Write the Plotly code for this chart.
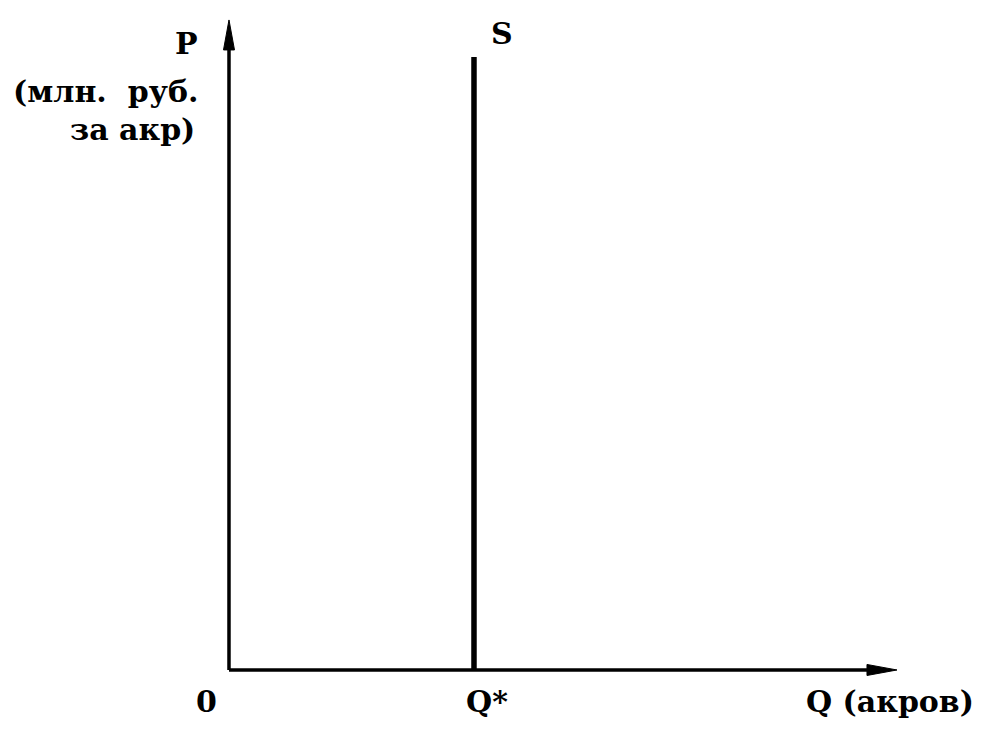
import plotly.graph_objects as go

# Data (units: Q* = 1, top of supply line = 1)
q_star = 1.0
supply_q = [1.0, 1.0]
supply_p = [0.0, 1.0]
x_axis_end = 2.7265
y_axis_end = 1.0604

x_labels = ["0", "Q*", "Q (акров)"]
x_label_pos = [-0.09, 1.053, 2.698]

font_family = "DejaVu Serif"
fsize = 30

# pixel scale of the axes (px per data unit) for arrowhead geometry
PX_X = 245.0
PX_Y = 613.0
HEAD_LEN = 30.0
HEAD_HALF = 5.5

fig = go.Figure()

# axes lines
fig.add_trace(go.Scatter(x=[0, 0], y=[0, y_axis_end - HEAD_LEN / PX_Y], mode="lines",
                         line=dict(color="black", width=3.5), hoverinfo="skip"))
fig.add_trace(go.Scatter(x=[0, x_axis_end - HEAD_LEN / PX_X], y=[0, 0], mode="lines",
                         line=dict(color="black", width=3.5), hoverinfo="skip"))
# arrowheads
fig.add_trace(go.Scatter(
    x=[-HEAD_HALF / PX_X, 0, HEAD_HALF / PX_X, -HEAD_HALF / PX_X],
    y=[y_axis_end - HEAD_LEN / PX_Y, y_axis_end, y_axis_end - HEAD_LEN / PX_Y, y_axis_end - HEAD_LEN / PX_Y],
    mode="lines", fill="toself", fillcolor="black", line=dict(color="black", width=1), hoverinfo="skip"))
fig.add_trace(go.Scatter(
    x=[x_axis_end - HEAD_LEN / PX_X, x_axis_end, x_axis_end - HEAD_LEN / PX_X, x_axis_end - HEAD_LEN / PX_X],
    y=[HEAD_HALF / PX_Y, 0, -HEAD_HALF / PX_Y, HEAD_HALF / PX_Y],
    mode="lines", fill="toself", fillcolor="black", line=dict(color="black", width=1), hoverinfo="skip"))

# supply line
fig.add_trace(go.Scatter(x=supply_q, y=supply_p, mode="lines",
                         line=dict(color="black", width=5.5), hoverinfo="skip"))

tf = dict(family=font_family, size=fsize, color="black")

for lab, xp in zip(x_labels, x_label_pos):
    fig.add_annotation(x=xp, y=-0.0522, xref="x", yref="y", text="<b>%s</b>" % lab,
                       showarrow=False, font=tf, xanchor="center", yanchor="middle")

fig.add_annotation(x=1.114, y=1.039, xref="x", yref="y", text="<b>S</b>",
                   showarrow=False, font=tf, xanchor="center", yanchor="middle")
fig.add_annotation(x=-0.118, y=1.0228, xref="x", yref="y", text="<b>P</b>",
                   showarrow=False, font=tf, xanchor="right", yanchor="middle")
fig.add_annotation(x=-0.118, y=0.943, xref="x", yref="y", text="<b>(млн.  руб.</b>",
                   showarrow=False, font=tf, xanchor="right", yanchor="middle")
fig.add_annotation(x=-0.1306, y=0.881, xref="x", yref="y", text="<b>за акр)</b>",
                   showarrow=False, font=tf, xanchor="right", yanchor="middle")

fig.update_layout(
    width=986, height=744,
    margin=dict(l=0, r=0, t=0, b=0),
    paper_bgcolor="white", plot_bgcolor="white",
    showlegend=False,
    xaxis=dict(range=[-0.902, 3.1225], visible=False, fixedrange=True),
    yaxis=dict(range=[-0.1338, 1.0799], visible=False, fixedrange=True),
)

fig.write_html("out.html")
